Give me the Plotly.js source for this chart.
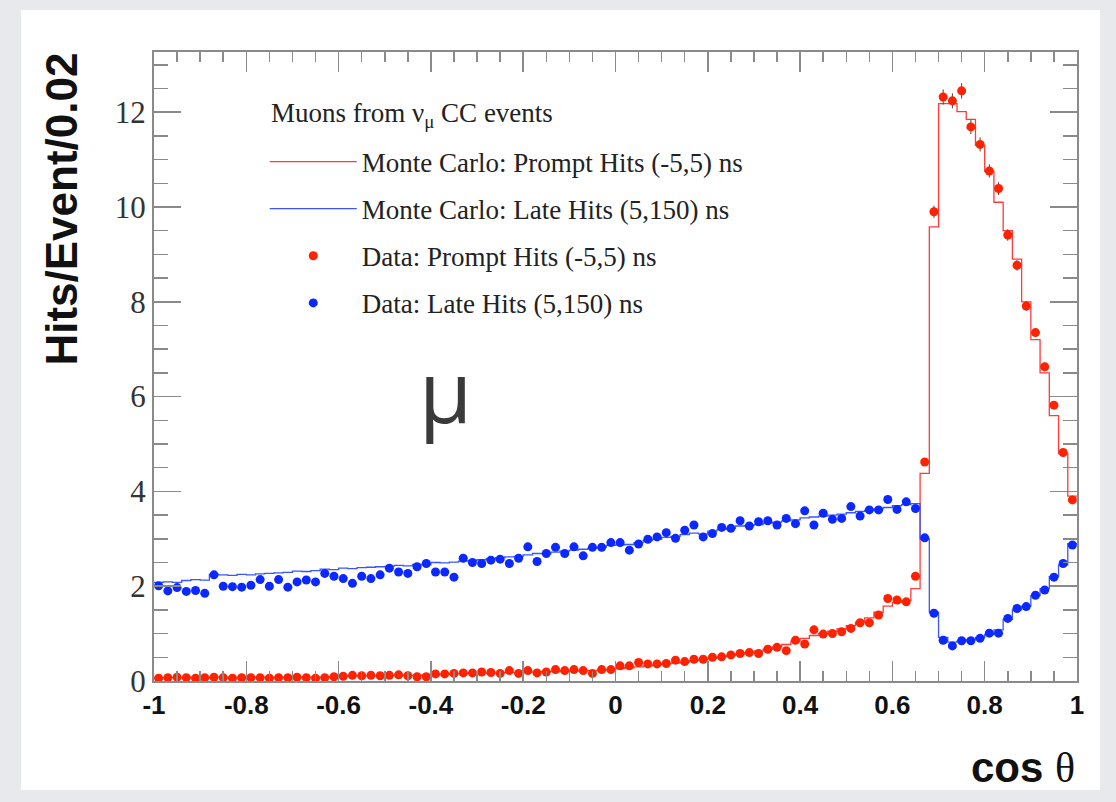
<!DOCTYPE html>
<html><head><meta charset="utf-8">
<script src="https://cdn.plot.ly/plotly-3.0.1.min.js"></script>
<style>
html,body{margin:0;padding:0;background:#e7e9ec;width:1116px;height:802px;overflow:hidden}
#panel{position:absolute;left:21px;top:10px;width:1079px;height:780px;background:#fff}
</style></head><body>
<div id="panel"><div id="chart"></div></div>
<script>
// ---- data ----
const binLow = -1;
const binWidth = 0.02;

const dataPrompt = [
 0.06,0.07,0.08,0.07,0.06,0.07,0.08,0.07,0.06,0.07,
 0.07,0.07,0.06,0.07,0.07,0.08,0.07,0.06,0.07,0.09,
 0.10,0.12,0.11,0.12,0.11,0.12,0.13,0.11,0.09,0.09,
 0.15,0.15,0.16,0.17,0.17,0.19,0.18,0.16,0.22,0.16,
 0.22,0.17,0.19,0.24,0.22,0.24,0.22,0.16,0.24,0.24,
 0.32,0.32,0.39,0.36,0.36,0.37,0.44,0.41,0.46,0.46,
 0.50,0.51,0.55,0.58,0.60,0.58,0.67,0.71,0.64,0.86,
 0.78,1.08,0.99,1.00,1.04,1.11,1.23,1.23,1.39,1.74,
 1.71,1.67,2.21,4.62,9.90,12.32,12.24,12.45,11.69,11.32,
 10.76,10.39,9.41,8.77,7.91,7.35,6.63,5.82,4.82,3.82];

const dataLate = [
 2.01,1.90,1.97,1.89,1.91,1.85,2.24,2.00,1.99,1.98,
 2.02,2.14,2.00,2.14,1.98,2.09,2.13,2.09,2.27,2.21,
 2.16,2.06,2.21,2.16,2.24,2.38,2.30,2.27,2.41,2.48,
 2.30,2.30,2.19,2.59,2.50,2.48,2.55,2.57,2.48,2.59,
 2.83,2.52,2.69,2.82,2.69,2.83,2.64,2.82,2.82,2.92,
 2.92,2.76,2.89,2.99,3.04,3.13,3.01,3.18,3.29,3.04,
 3.11,3.24,3.22,3.38,3.27,3.36,3.38,3.29,3.43,3.32,
 3.59,3.29,3.54,3.41,3.43,3.68,3.48,3.61,3.61,3.83,
 3.62,3.78,3.64,3.02,1.43,0.86,0.74,0.85,0.85,0.90,
 1.01,1.01,1.32,1.53,1.57,1.81,1.92,2.19,2.48,2.87];

const mcPrompt = [
 0.07,0.07,0.07,0.08,0.07,0.07,0.08,0.08,0.07,0.08,
 0.08,0.08,0.07,0.08,0.08,0.08,0.08,0.08,0.08,0.09,
 0.10,0.11,0.11,0.11,0.11,0.12,0.12,0.12,0.12,0.13,
 0.14,0.14,0.15,0.15,0.16,0.16,0.17,0.17,0.18,0.18,
 0.19,0.19,0.20,0.20,0.21,0.21,0.22,0.22,0.23,0.24,
 0.26,0.28,0.30,0.32,0.34,0.36,0.38,0.40,0.43,0.45,
 0.48,0.51,0.54,0.57,0.60,0.63,0.67,0.72,0.77,0.84,
 0.90,0.96,1.00,1.05,1.10,1.17,1.24,1.33,1.45,1.58,
 1.66,1.70,1.95,4.38,9.58,12.18,12.18,12.01,11.85,11.30,
 10.75,10.10,9.50,8.90,8.00,7.20,6.50,5.60,4.80,3.90];

const mcLate = [
 2.08,2.09,2.08,2.12,2.14,2.13,2.25,2.24,2.23,2.25,
 2.24,2.26,2.27,2.28,2.29,2.32,2.31,2.33,2.36,2.35,
 2.38,2.37,2.39,2.40,2.41,2.42,2.44,2.43,2.46,2.45,
 2.50,2.49,2.51,2.53,2.54,2.56,2.58,2.60,2.62,2.63,
 2.66,2.69,2.68,2.72,2.74,2.76,2.78,2.80,2.82,2.86,
 2.87,2.88,2.92,2.96,2.99,3.03,3.05,3.09,3.12,3.10,
 3.16,3.20,3.22,3.27,3.28,3.30,3.33,3.35,3.38,3.40,
 3.44,3.46,3.48,3.50,3.52,3.55,3.58,3.60,3.63,3.66,
 3.70,3.72,3.74,3.00,1.45,0.92,0.82,0.84,0.87,0.92,
 0.98,1.08,1.30,1.50,1.58,1.80,1.95,2.20,2.45,2.90];

const xTickVals = [-1,-0.8,-0.6,-0.4,-0.2,0,0.2,0.4,0.6,0.8,1];
const xTickText = ['-1','-0.8','-0.6','-0.4','-0.2','0','0.2','0.4','0.6','0.8','1'];
const yTickVals = [0,2,4,6,8,10,12];
const yTickText = ['0','2','4','6','8','10','12'];

const seriesNames = [
 'Monte Carlo: Prompt Hits (-5,5) ns',
 'Monte Carlo: Late Hits (5,150) ns',
 'Data: Prompt Hits (-5,5) ns',
 'Data: Late Hits (5,150) ns'];
const legendTitle = 'Muons from ν<sub>μ</sub> CC events';
const xTitle = 'cos <span style="font-family:\'Liberation Serif\',serif;font-weight:normal">θ</span>';
const yTitle = 'Hits/Event/0.02';
const bigLabel = 'μ';

// ---- derived bin geometry ----
const nBins = dataPrompt.length;
const centers = dataPrompt.map((_, i) => binLow + binWidth * (i + 0.5));
const edges = dataPrompt.map((_, i) => binLow + binWidth * i).concat([binLow + binWidth * nBins]);
const stepY = arr => arr.concat([arr[arr.length - 1]]);

const RED = '#ff2200', BLUE = '#0a28ff';
const serif = 'Liberation Serif, Times New Roman, serif';
const sans = 'Liberation Sans, Arial, Helvetica, sans-serif';

const traces = [
 {x: edges, y: stepY(mcPrompt), name: seriesNames[0], mode: 'lines', legendgroup: 'a',
  line: {shape: 'hv', color: '#ff3b3b', width: 1.3}},
 {x: edges, y: stepY(mcLate), name: seriesNames[1], mode: 'lines', legendgroup: 'b',
  line: {shape: 'hv', color: '#3a55ff', width: 1.3}},
 {x: centers, y: dataPrompt, name: seriesNames[2], mode: 'markers', legendgroup: 'c',
  marker: {color: RED, size: 9},
  error_y: {type: 'percent', value: 1.3, color: '#444', thickness: 1, width: 0}},
 {x: centers, y: dataLate, name: seriesNames[3], mode: 'markers', legendgroup: 'd',
  marker: {color: BLUE, size: 9},
  error_y: {type: 'percent', value: 1.3, color: '#444', thickness: 1, width: 0}}
];

const AX = '#8a8a8a';
const layout = {
 width: 1079, height: 780,
 margin: {l: 133, r: 23, t: 42, b: 109, pad: 0},
 paper_bgcolor: '#ffffff', plot_bgcolor: '#ffffff',
 showlegend: true,
 xaxis: {
  range: [-1, 1], showline: true, linecolor: AX, linewidth: 2, mirror: 'ticks',
  ticks: 'inside', ticklen: 20, tickwidth: 1.5, tickcolor: AX,
  tickmode: 'array', tickvals: xTickVals, ticktext: xTickText,
  tickfont: {family: sans, size: 26, color: '#111', weight: 'bold'},
  minor: {tickmode: 'linear', tick0: -1, dtick: 0.05, ticks: 'inside', ticklen: 10, tickwidth: 1.5, tickcolor: AX, showgrid: false},
  showgrid: false, zeroline: false, fixedrange: true
 },
 yaxis: {
  range: [0, 13.27], showline: true, linecolor: AX, linewidth: 2, mirror: 'ticks',
  ticks: 'inside', ticklen: 27, tickwidth: 1.5, tickcolor: AX,
  tickmode: 'array', tickvals: yTickVals, ticktext: yTickText,
  tickfont: {family: serif, size: 31, color: '#333'},
  minor: {tickmode: 'linear', tick0: 0, dtick: 0.5, ticks: 'inside', ticklen: 14, tickwidth: 1.5, tickcolor: AX, showgrid: false},
  showgrid: false, zeroline: false, fixedrange: true
 },
 legend: {
  x: 0.12, y: 0.864, xanchor: 'left', yanchor: 'top',
  bgcolor: 'rgba(0,0,0,0)', borderwidth: 0,
  font: {family: serif, size: 27, color: '#222'},
  itemwidth: 87, traceorder: 'grouped', tracegroupgap: 9
 },
 annotations: [
  {text: legendTitle, xref: 'paper', yref: 'paper', x: 0.1245, y: 0.900, xanchor: 'left', yanchor: 'middle',
   showarrow: false, font: {family: serif, size: 27, color: '#222'}},
  {text: yTitle, xref: 'paper', yref: 'paper', x: -0.0997, y: 1.003, xanchor: 'center', yanchor: 'top',
   textangle: -90, showarrow: false, font: {family: sans, size: 44, color: '#111', weight: 'bold'}},
  {text: xTitle, xref: 'paper', yref: 'paper', x: 1, y: -0.137, xanchor: 'right', yanchor: 'middle',
   showarrow: false, font: {family: sans, size: 42, color: '#111', weight: 'bold'}},
  {text: bigLabel, xref: 'paper', yref: 'paper', x: 0.316, y: 0.463, xanchor: 'center', yanchor: 'middle',
   showarrow: false, font: {family: 'Open Sans, sans-serif', size: 86, color: '#3a3a3a'}}
 ]
};

Plotly.newPlot('chart', traces, layout, {displayModeBar: false, staticPlot: true});
</script>
</body></html>
